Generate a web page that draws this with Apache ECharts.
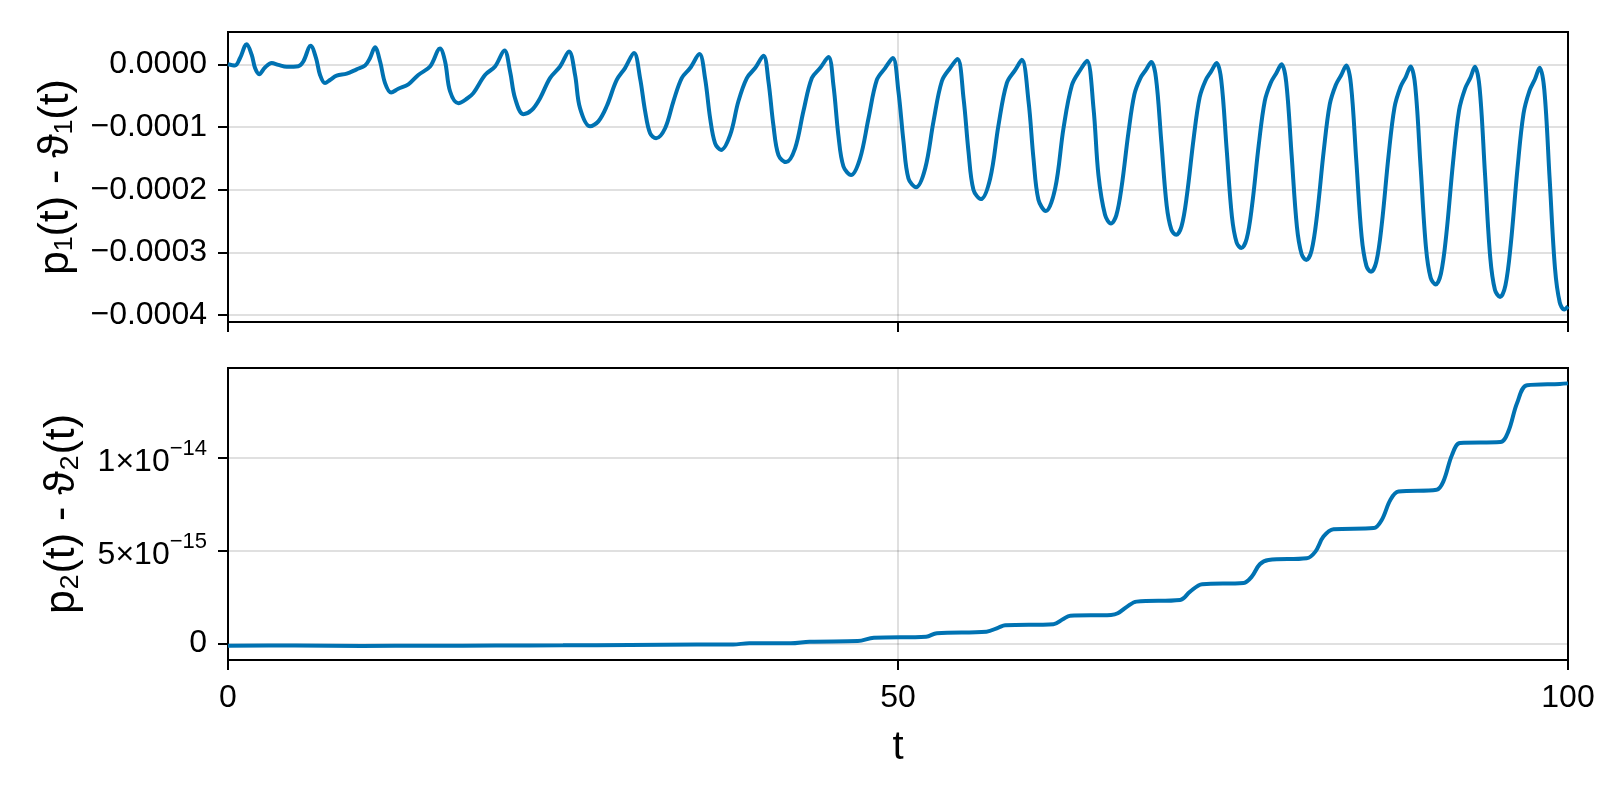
<!DOCTYPE html>
<html>
<head>
<meta charset="utf-8">
<title>p(t) - ϑ(t)</title>
<script src="https://cdn.jsdelivr.net/npm/echarts@6.0.0/dist/echarts.min.js"></script>
<style>
  html, body { margin: 0; padding: 0; background: #fff; }
  #chart { width: 1600px; height: 800px; }
</style>
</head>
<body>
<div id="chart"></div>
<script>
// top panel: p1(t) - θ1(t), values in units of 1e-4
const topT = [
  0, 0.52, 0.90, 1.39, 1.77, 2.02, 2.33, 2.76, 3.26, 3.76, 4.38, 5.25, 5.62, 6.17, 6.57, 6.87,
  7.24, 7.61, 8.11, 8.86, 9.6, 10.23, 10.6, 10.97, 11.35, 11.72, 12.17, 12.71, 13.46, 14.2, 15.08,
  15.82, 16.2, 16.57, 17.19, 17.82, 18.31, 19.18, 19.93, 20.63, 21.05, 21.42, 22.04, 22.67, 23.29,
  24.03, 24.78, 25.45, 25.9, 26.27, 27.02, 27.64, 28.26, 29.01, 29.63, 30.3, 30.75, 31.13, 31.5,
  31.95, 32.62, 33.24, 33.86, 34.49, 35.18, 35.6, 35.98, 36.35, 36.8, 37.47, 38.09, 38.72, 39.34,
  39.96, 40.33, 40.7, 41.08, 41.65, 42.32, 42.94, 43.57, 44.19, 44.81, 45.18, 45.55, 45.93, 46.5,
  47.17, 47.8, 48.42, 49.04, 49.61, 50.03, 50.41, 50.78, 51.35, 52.03, 52.65, 53.27, 53.89, 54.44,
  54.89, 55.26, 55.63, 56.18, 56.88, 57.5, 58.12, 58.75, 59.24, 59.74, 60.11, 60.48, 61.03, 61.73,
  62.35, 62.98, 63.6, 64.1, 64.59, 64.96, 65.45,
  65.89, 66.29, 66.69, 67.19, 67.64, 68.09, 68.49, 68.90, 69.25, 69.65, 70.05, 70.40,
  70.76, 71.16, 71.56, 72.06, 72.51, 72.96, 73.36, 73.77, 74.12, 74.52, 74.92, 75.27,
  75.62, 76.02, 76.42, 76.92, 77.37, 77.82, 78.22, 78.62, 78.97, 79.37, 79.77, 80.12,
  80.47, 80.87, 81.27, 81.77, 82.22, 82.67, 83.07, 83.45, 83.80, 84.20, 84.60, 84.95,
  85.30, 85.70, 86.10, 86.60, 87.05, 87.50, 87.90, 88.25, 88.60, 89.00, 89.40, 89.75,
  90.12, 90.52, 90.92, 91.42, 91.87, 92.32, 92.72, 93.05, 93.40, 93.80, 94.20, 94.55,
  94.93, 95.33, 95.73, 96.23, 96.68, 97.13, 97.53, 97.88, 98.23, 98.63, 99.03, 99.38,
  99.72, 100
];
const topV = [
  0.0, -0.02, 0.10, 0.32, 0.15, -0.06, -0.157, -0.05, 0.02, -0.01, -0.04, -0.03, 0.045, 0.296, 0.10, -0.17,
  -0.30, -0.25, -0.18, -0.15, -0.08, -0.02, 0.10, 0.27, 0.045, -0.30, -0.45, -0.39, -0.32, -0.17, -0.035,
  0.25, 0.045, -0.43, -0.62, -0.55, -0.46, -0.17, -0.035, 0.22, -0.115, -0.54, -0.795, -0.73, -0.54,
  -0.22, -0.035, 0.205, -0.17, -0.70, -0.99, -0.91, -0.67, -0.25, -0.06, 0.18, -0.22, -0.75, -1.10,
  -1.18, -1.02, -0.59, -0.22, -0.06, 0.163, -0.22, -0.86, -1.26, -1.366, -1.13, -0.59, -0.22, -0.06,
  0.136, -0.27, -0.97, -1.45, -1.56, -1.34, -0.75, -0.22, -0.06, 0.115, -0.33, -1.13, -1.63, -1.765,
  -1.50, -0.86, -0.25, -0.06, 0.099, -0.43, -1.23, -1.82, -1.96, -1.66, -0.91, -0.27, -0.06, 0.083,
  -0.54, -1.39, -2.00, -2.15, -1.82, -0.97, -0.30, -0.09, 0.072, -0.59, -1.50, -2.16, -2.34, -1.98,
  -1.02, -0.33, -0.09, 0.056, -0.70, -1.77, -2.40,
  -2.54, -2.41, -1.95, -1.10, -0.48, -0.22, -0.094, 0.035, -0.213, -1.232, -2.252, -2.637,
  -2.72, -2.583, -2.09, -1.186, -0.528, -0.254, -0.117, 0.02, -0.246, -1.337, -2.429, -2.842,
  -2.93, -2.783, -2.256, -1.289, -0.586, -0.293, -0.146, 0.0, -0.281, -1.435, -2.59, -3.026,
  -3.12, -2.965, -2.407, -1.384, -0.64, -0.33, -0.175, -0.02, -0.316, -1.533, -2.751, -3.211,
  -3.31, -3.146, -2.557, -1.476, -0.69, -0.362, -0.199, -0.035, -0.348, -1.634, -2.919, -3.406,
  -3.51, -3.336, -2.712, -1.567, -0.734, -0.387, -0.213, -0.04, -0.37, -1.728, -3.086, -3.60,
  -3.71, -3.527, -2.869, -1.663, -0.786, -0.42, -0.238, -0.055, -0.402, -1.828, -3.255, -3.794,
  -3.91, -3.86
];

// bottom panel: p2(t) - θ2(t), values in units of 1e-15
const botT = [
  0, 5, 10, 15, 20, 25, 30, 35, 37.7, 38.9, 42, 43.4, 47, 48.2, 52.1, 52.9, 56.6, 57.5, 58.0,
  61.6, 62.3, 62.85, 65.9, 66.4, 67.1, 67.8, 71.05, 71.8, 72.7, 75.8, 76.4, 77.0, 77.65, 80.5,
  81.15, 81.75, 82.5, 85.5, 86.1, 86.75, 87.35, 90.2, 90.7, 91.35, 91.95, 94.95, 95.55, 96.2,
  96.95, 99.4, 100
];
const botV = [
  -0.13, -0.12, -0.14, -0.13, -0.12, -0.11, -0.09, -0.07, -0.06, 0.0, 0.0, 0.09, 0.12, 0.30, 0.36,
  0.55, 0.63, 0.85, 0.97, 1.03, 1.3, 1.49, 1.53, 1.62, 1.98, 2.25, 2.34, 2.79, 3.19, 3.26, 3.60,
  4.27, 4.50, 4.59, 4.95, 5.76, 6.16, 6.22, 6.66, 7.75, 8.19, 8.29, 8.74, 10.18, 10.81, 10.86,
  11.44, 12.97, 13.93, 14.0, 14.03
];

// ticks
const xTicks = [0, 50, 100];
const topTicks = [0, -0.0001, -0.0002, -0.0003, -0.0004];
const botTicks = [0, 5e-15, 1e-14];
const botTickLabels = ['0', '{b|5×10}{s|−15}', '{b|1×10}{s|−14}'];

const FONT = '"Liberation Sans", Arial, Helvetica, sans-serif';
const GRID_LINE = { color: 'rgba(0,0,0,0.12)', width: 2 };
const TICK = { show: true, length: 10, lineStyle: { color: '#000', width: 2 } };
const LINE_COLOR = '#0072b2';

const topData = topT.map((t, i) => [t, topV[i] * 1e-4]);
const botData = botT.map((t, i) => [t, botV[i] * 1e-15]);

const chart = echarts.init(document.getElementById('chart'));

function xAxisFor(idx, withLabels) {
  return {
    gridIndex: idx,
    type: 'value',
    min: 0,
    max: 100,
    interval: 50,
    axisLine: { show: true, onZero: false, lineStyle: { color: '#000', width: 2 } },
    axisTick: TICK,
    axisLabel: {
      show: withLabels,
      fontSize: 32,
      color: '#000',
      margin: 22,
      fontFamily: FONT,
      customValues: xTicks
    },
    splitLine: { show: true, lineStyle: GRID_LINE },
    name: withLabels ? 't' : '',
    nameLocation: 'middle',
    nameGap: 68,
    nameTextStyle: { fontSize: 40, color: '#000', fontFamily: FONT }
  };
}

const option = {
  animation: false,
  backgroundColor: '#fff',
  textStyle: { fontFamily: FONT },
  grid: [
    { left: 228, right: 32, top: 32, height: 290, show: true, borderColor: '#000', borderWidth: 2,
      containLabel: false, outerBoundsMode: 'none' },
    { left: 228, right: 32, top: 368, height: 292, show: true, borderColor: '#000', borderWidth: 2,
      containLabel: false, outerBoundsMode: 'none' }
  ],
  xAxis: [xAxisFor(0, false), xAxisFor(1, true)],
  yAxis: [
    {
      gridIndex: 0,
      type: 'value',
      min: -0.000411,
      max: 0.0000515,
      axisLine: { show: true, onZero: false, lineStyle: { color: '#000', width: 2 } },
      axisTick: Object.assign({}, TICK, { customValues: topTicks }),
      axisLabel: {
        fontSize: 32,
        color: '#000',
        margin: 21,
        fontFamily: FONT,
        customValues: topTicks,
        formatter: v => (v < -1e-12 ? '−' : '') + Math.abs(v).toFixed(4)
      },
      splitLine: { show: true, lineStyle: GRID_LINE },
      name: 'p₁(t) - ϑ₁(t)',
      nameLocation: 'middle',
      nameGap: 150,
      nameTextStyle: { fontSize: 43, color: '#000', fontFamily: FONT }
    },
    {
      gridIndex: 1,
      type: 'value',
      min: -0.9e-15,
      max: 1.486e-14,
      axisLine: { show: true, onZero: false, lineStyle: { color: '#000', width: 2 } },
      axisTick: Object.assign({}, TICK, { customValues: botTicks }),
      axisLabel: {
        fontSize: 32,
        color: '#000',
        margin: 21,
        fontFamily: FONT,
        customValues: botTicks,
        formatter: v => {
          const i = botTicks.findIndex(b => Math.abs(b - v) < 1e-17);
          return i >= 0 ? botTickLabels[i] : '';
        },
        rich: {
          b: { fontSize: 32, lineHeight: 40, verticalAlign: 'bottom', color: '#000', fontFamily: FONT },
          s: { fontSize: 22, lineHeight: 22, verticalAlign: 'top', color: '#000', fontFamily: FONT }
        }
      },
      splitLine: { show: true, lineStyle: GRID_LINE },
      name: 'p₂(t) - ϑ₂(t)',
      nameLocation: 'middle',
      nameGap: 144,
      nameTextStyle: { fontSize: 43, color: '#000', fontFamily: FONT }
    }
  ],
  series: [
    {
      type: 'line',
      xAxisIndex: 0,
      yAxisIndex: 0,
      data: topData,
      showSymbol: false,
      smooth: 0.35,
      lineStyle: { color: LINE_COLOR, width: 4 },
      itemStyle: { color: LINE_COLOR }
    },
    {
      type: 'line',
      xAxisIndex: 1,
      yAxisIndex: 1,
      data: botData,
      showSymbol: false,
      smooth: 0.35,
      lineStyle: { color: LINE_COLOR, width: 4 },
      itemStyle: { color: LINE_COLOR }
    }
  ]
};

chart.setOption(option);
</script>
</body>
</html>
